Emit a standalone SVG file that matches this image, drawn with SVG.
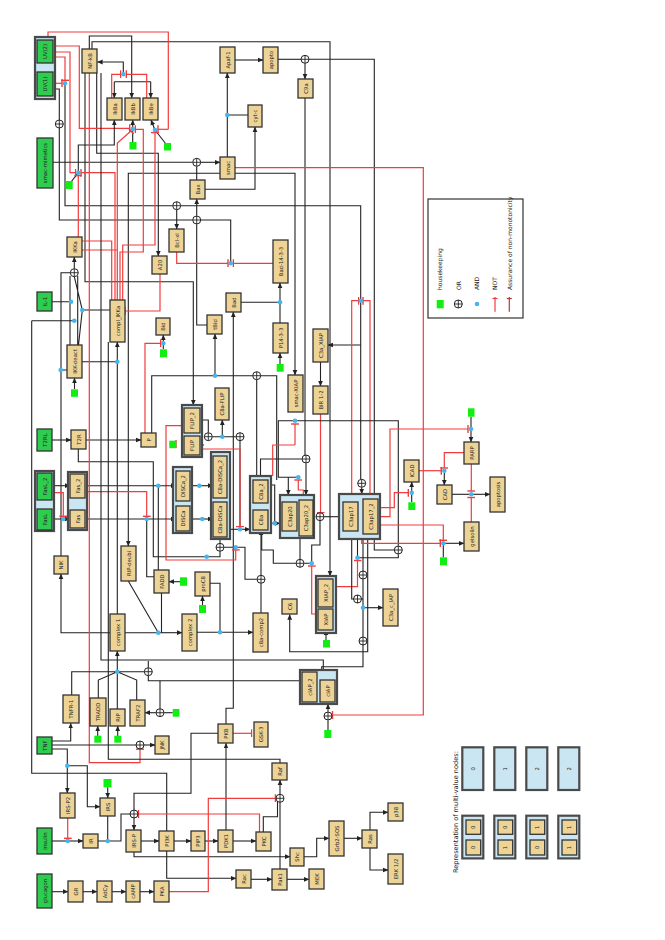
<svg xmlns="http://www.w3.org/2000/svg" width="665" height="940" viewBox="0 0 665 940">
<defs>
<style>
.n{fill:#EDD396;stroke:#333;stroke-width:1.3}
.g{fill:#2ECC4F;stroke:#333;stroke-width:1.3}
.c{fill:#C9E6F2;stroke:#4a4a4a;stroke-width:2.2}
.hk{fill:#11EE11}
.t{font-family:"DejaVu Sans",sans-serif;font-size:5.3px;text-anchor:middle;dominant-baseline:central;fill:#222}
.b{fill:none;stroke:#222;stroke-width:1.1}
.r{fill:none;stroke:#F03C3C;stroke-width:1.2}
.ba{fill:none;stroke:#222;stroke-width:1.1;marker-end:url(#a)}
.ri{fill:none;stroke:#F03C3C;stroke-width:1.2;marker-end:url(#i)}
.and{fill:#45B5EE}
.lt{font-family:"DejaVu Sans",sans-serif;font-size:6px;fill:#222}
</style>
<marker id="a" viewBox="0 0 6 6" refX="5.6" refY="3" markerWidth="5" markerHeight="5" orient="auto"><path d="M0,0.4 L6,3 L0,5.6z" fill="#222"/></marker>
<marker id="i" viewBox="0 0 4 8" refX="1" refY="4" markerWidth="4" markerHeight="8" orient="auto" markerUnits="userSpaceOnUse"><path d="M1,0 V8" stroke="#F03C3C" stroke-width="1.4"/></marker>
<g id="or"><circle r="4" fill="#fff" stroke="#222" stroke-width="1"/><path d="M-4,0H4M0,-4V4" stroke="#222" stroke-width="0.9"/></g>
</defs>
<rect width="665" height="940" fill="#fff"/>

<g id="connectors">
<!-- top / NF-kB -->
<path class="b" d="M89.3,49V36H131.7V81.7M114.3,81.7H150.7"/>
<path class="ba" d="M114.3,81.7V98"/><path class="ba" d="M131.7,81.7V98"/><path class="ba" d="M150.7,81.7V98"/>
<path class="ba" d="M123.3,74.3V62H97.5"/>
<path class="ri" d="M111.7,98V74.3H120.5"/><path class="ri" d="M146.7,98V74.3H126.3"/>
<path class="ba" d="M92,49V41.7H330V576"/>
<path class="ba" d="M96.7,73V153.3H158.3V256"/>
<path class="ba" d="M85,73V281.7H193.3V405"/>
<path class="r" d="M48,37V32H168.3V129.3"/><path class="ri" d="M168.3,129.3H158"/>
<path class="ri" d="M53,46H79.3V128.3H129.7"/>
<path class="ri" d="M53,52H70V172.7H75.5"/>
<path class="ri" d="M53,57H65V80.3"/>
<path class="ri" d="M53,83.3H62"/>
<path class="b" d="M65,83.3V205.7H172.5M180.9,205.7H360.7V479.1"/>
<path class="ba" d="M176.7,209.9V229"/>
<path class="ba" d="M360.7,345H328"/>
<path class="ba" d="M361.7,487.5V494"/>
<path class="b" d="M53,89H59.3V120"/>
<path class="b" d="M59.3,128V220H192.5"/>
<path class="ba" d="M196.7,215.8V199"/>
<path class="b" d="M200.9,220H230.7V263.3"/>
<path class="b" d="M207,325H196.7V224.2"/>
<path class="ri" d="M176.7,252V263.3H228"/>
<path class="ri" d="M273,263.3H233.4"/>
<path class="b" d="M53,162.3H192.5"/><path class="ba" d="M200.9,162.3H220"/>
<path class="b" d="M196.7,166.5V180"/>
<path class="ba" d="M205,189.3H255V127"/>
<path class="b" d="M248,115H227.3V157"/><path class="ba" d="M227.3,115V73"/>
<path class="ba" d="M235,60H263"/>
<path class="b" d="M278,59.3H301"/><path class="ba" d="M305,63.5V79"/>
<path class="ba" d="M309,59.3H374.3V499"/>
<path class="b" d="M305,98V455"/><path class="ba" d="M306,463.2V495"/>
<path class="b" d="M260.5,476V459H301.8"/>
<path class="ba" d="M235,173.3H295V375"/>
<path class="ba" d="M220,173.3H128.3V546"/>
<path class="ri" d="M235,167.7H423.3V715H332.5"/>
<!-- Bad / 14-3-3 -->
<path class="b" d="M241,302.3H280V323"/><path class="ba" d="M280,302.3V283"/>
<path class="ba" d="M280,364V353"/>
<path class="ba" d="M226,724V708.3H233.3V312"/>
<!-- IkB ANDs -->
<path class="b" d="M71,182L78.3,172.7"/><path class="ba" d="M78.3,172.7V145H114.3V120"/>
<path class="b" d="M132.7,142V129"/><path class="ba" d="M132.7,129V120"/>
<path class="b" d="M166,144L155,130"/><path class="ba" d="M155,130L151,120"/>
<path class="ri" d="M115,300V172.7H81"/>
<path class="ri" d="M117.3,300V143L131,131"/>
<path class="ri" d="M120,300V252H143.3V129.3H135.4"/>
<path class="ri" d="M122.7,300V245H155V132.6"/>
<path class="r" d="M82,241H111.7V300M82,250H117.3"/>
<path class="ri" d="M78.3,237V175.6"/>
<!-- IKK area -->
<path class="ba" d="M74.3,268.7V257"/>
<path class="b" d="M70,276V345M77.7,276V345M74.3,276.7L82.3,310L78.5,345M82.3,310H110"/>
<path class="b" d="M52,301.7H70M31.7,320.7H74.3"/>
<path class="b" d="M31.7,320.7V773.3H166.7V831"/>
<path class="b" d="M61,556V272.7H70.3M60.7,370H67"/>
<path class="ba" d="M74.5,389V378"/>
<path class="b" d="M82,361.7H117.3"/><path class="ba" d="M117.3,614V342"/>
<path class="ri" d="M160,274V311H125"/>
<path class="ba" d="M163.3,349V335"/>
<path class="ri" d="M145,433V343.3H160.6"/>
<path class="ba" d="M52,440H71"/><path class="ba" d="M86,440H141"/>
<path class="b" d="M78.3,449V461.7H153.3V556.7H206.7H220V551.5"/>
<path class="b" d="M151.7,433V375.7H276.7V480"/>
<path class="ba" d="M215,375.7V334"/>
<path class="b" d="M256.7,379.9V476"/>
<path class="b" d="M202,420H208.3V432.5M202,445H204.1M212.5,436.7H235.8"/>
<path class="ba" d="M222.3,436.7V420"/>
<path class="b" d="M240,440.9V529.3"/>
<path class="ba" d="M229,529.3H250"/>
<path class="ri" d="M200,449H240V526.5"/>
<path class="ri" d="M184,425.7H166V560H235.7V549.9"/>
<path class="b" d="M220,538.5V543.1M224.2,547.3H245V579.3H256.8"/>
<path class="ri" d="M169.5,444H176"/>
<!-- Fas / DISC -->
<path class="ba" d="M52,485.7H70"/>
<path class="ba" d="M52,519H70"/>
<path class="ri" d="M52,492.7H63.3V516.3"/>
<path class="ba" d="M86,485.7H176"/>
<path class="ba" d="M86,519H176"/>
<path class="ri" d="M86,491.7H146.7V516.3"/>
<path class="b" d="M158.3,485.7V570M146.7,519V576.7H154"/>
<path class="ba" d="M186,581.7H169"/>
<path class="b" d="M128.3,581L158.3,632.7M161.5,593V632.7"/>
<path class="ba" d="M158.3,632.7H182"/>
<path class="ba" d="M158.3,632.7H61V574"/>
<path class="ba" d="M190,485.7H213"/><path class="ba" d="M190,519H213"/>
<path class="ri" d="M89.3,73V762.7H140V749.2"/>
<path class="b" d="M101,73V660H323.3V670"/>
<path class="b" d="M108.3,342V759.3H280V763"/>
<!-- complex 1 -->
<path class="b" d="M71.7,695V671.7H117.3M98.3,698V680L117.3,671.7M136.7,700V680L117.3,671.7M117.3,709V671.7M144,671.7H117.3"/>
<path class="ba" d="M117.3,671.7V651"/>
<path class="b" d="M148.3,667.5V661M148.3,675.9V680.7H301.7"/>
<path class="ba" d="M97.7,736V726"/><path class="ba" d="M117.7,736V726"/>
<path class="b" d="M172.7,712.7H164.2"/><path class="ba" d="M155.8,712.7H145"/>
<path class="b" d="M160,708.5V680.7"/>
<path class="b" d="M197,632.3H220V583.3H210"/><path class="ba" d="M220,632.3H253"/>
<path class="ba" d="M261,575V530"/>
<path class="b" d="M261,613V583.5"/>
<path class="ba" d="M202.5,605V596"/>
<!-- caspases -->
<path class="ba" d="M320.5,362V386"/>
<path class="ri" d="M320.5,414V512.5"/>
<path class="ba" d="M324.2,516.7H343"/>
<path class="ri" d="M351.7,494V300.7H358.5"/>
<path class="ri" d="M370,499V300.7H363"/>
<path class="b" d="M298.3,477.3H278.3V420.7H398.3V545.8"/>
<path class="ba" d="M288.3,477.3V495"/>
<path class="ri" d="M303.3,500V490H298.3V480"/>
<path class="ri" d="M295,445V424"/>
<path class="r" d="M295,445H272.7V476"/>
<path class="b" d="M268,485H274.7V523.3M268,523.3H274.7"/><path class="ba" d="M274.7,523.3H280"/>
<path class="b" d="M261.7,530V550H273.3V563.3H295.8M300,538V559.1M304.2,563.3H311.7V545H320V520.9"/>
<path class="ri" d="M318,614H311.7V566"/>
<path class="ba" d="M394,550H374.3V535"/>
<path class="b" d="M357.5,539V557.7H398.3V554.2"/>
<path class="ri" d="M333,586.7H357.5V560.5"/>
<path class="b" d="M363,539V666.7H321.7V670"/>
<path class="b" d="M351.7,539V599H353.3M361.7,599H363"/>
<path class="ba" d="M363,607.7H383"/>
<path class="ba" d="M367.7,539V651.7H289.7V614.5"/>
<path class="ba" d="M326,640V630"/>
<!-- ICAD etc -->
<path class="ba" d="M411.7,502V482"/>
<path class="ri" d="M378,507.7H394.3V492.7H408.3"/>
<path class="ri" d="M419,470.7H441.3"/>
<path class="ri" d="M464,452.7H444.3V468"/>
<path class="ba" d="M444.3,473V485"/>
<path class="b" d="M471,416.7V429"/><path class="ba" d="M471,429V442"/>
<path class="ri" d="M378,516.7H390V429H468"/>
<path class="b" d="M452,494.3H471.3"/><path class="ba" d="M471.3,494.3H490"/>
<path class="ri" d="M471.3,464V491"/><path class="ri" d="M471.3,522V497.5"/>
<path class="ba" d="M443.3,543.3H464"/>
<path class="b" d="M443.3,557.3V543.3"/>
<path class="ri" d="M378,525H443.3V540.3"/>
<path class="ri" d="M361.7,539V543.3H440.3"/>
<!-- bottom -->
<path class="ba" d="M52,741H70.7V723.3"/>
<path class="b" d="M52,745H136"/><path class="ba" d="M144,745H155"/>
<path class="b" d="M52,749H67.3V765.7"/><path class="ba" d="M67.3,765.7V793"/>
<path class="ba" d="M67.3,765.7H87.3V806.7H100"/>
<path class="ri" d="M67.7,818V838.3"/>
<path class="ba" d="M52,841H83"/>
<path class="b" d="M98,841H121V814H130"/>
<path class="ba" d="M107.7,787.3V798"/><path class="b" d="M107.7,816V841"/>
<path class="ba" d="M134,818V830"/>
<path class="b" d="M134,810V793.3H191V733.3H218"/>
<path class="ri" d="M259.5,832V814H138.5"/>
<path class="ba" d="M141,841H159"/><path class="ba" d="M174,841H191"/>
<path class="ba" d="M205,841H218"/><path class="ba" d="M233,841H256"/>
<path class="ba" d="M226,830V743.3"/>
<path class="ri" d="M233,733.3H251.5"/>
<path class="ba" d="M134,852V856.7H290"/>
<path class="ba" d="M166.7,851V878.3H236"/>
<path class="ba" d="M251,879.3H272"/><path class="ba" d="M287,879.3H309"/>
<path class="b" d="M280,869V802.2M263.3,832V816.7H277.5V801.5"/>
<path class="ba" d="M280,794.2V780"/>
<path class="ri" d="M169,891.7H208.3V798.3H275.4"/>
<path class="ba" d="M52,891.7H68"/><path class="ba" d="M83,891.7H97"/><path class="ba" d="M112,891.7H126"/><path class="ba" d="M140,891.7H154"/>
<path class="ba" d="M304,856.7H316.7V838.3H329"/>
<path class="ba" d="M344,838.3H362"/>
<path class="ba" d="M370,830V812.3H388"/><path class="ba" d="M370,848V870H388"/>
<path class="b" d="M328,730V720.2"/><path class="ba" d="M328,711.8V704"/>
</g>

<g id="logic">
<circle class="and" cx="123.3" cy="74.3" r="2.3"/>
<circle class="and" cx="65" cy="83.3" r="2.3"/>
<circle class="and" cx="132.7" cy="129" r="2.3"/>
<circle class="and" cx="155" cy="130" r="2.3"/>
<circle class="and" cx="78.3" cy="172.7" r="2.3"/>
<circle class="and" cx="227.3" cy="115" r="2.3"/>
<circle class="and" cx="230.7" cy="263.3" r="2.3"/>
<circle class="and" cx="280" cy="302.3" r="2.3"/>
<circle class="and" cx="360.7" cy="300.7" r="2.3"/>
<circle class="and" cx="71" cy="301.7" r="2.3"/>
<circle class="and" cx="82.3" cy="310" r="2.3"/>
<circle class="and" cx="74.3" cy="320.7" r="2.3"/>
<circle class="and" cx="60.7" cy="370" r="2.3"/>
<circle class="and" cx="117.3" cy="361.7" r="2.3"/>
<circle class="and" cx="163.3" cy="343.3" r="2.3"/>
<circle class="and" cx="215" cy="375.7" r="2.3"/>
<circle class="and" cx="222.3" cy="436.7" r="2.3"/>
<circle class="and" cx="63.3" cy="519" r="2.3"/>
<circle class="and" cx="158.3" cy="485.7" r="2.3"/>
<circle class="and" cx="146.7" cy="519" r="2.3"/>
<circle class="and" cx="199.3" cy="485.7" r="2.3"/>
<circle class="and" cx="202.3" cy="519" r="2.3"/>
<circle class="and" cx="206.7" cy="556.7" r="2.3"/>
<circle class="and" cx="240" cy="529.3" r="2.3"/>
<circle class="and" cx="235.7" cy="547.3" r="2.3"/>
<circle class="and" cx="274.7" cy="523.3" r="2.3"/>
<circle class="and" cx="298.3" cy="477.3" r="2.3"/>
<circle class="and" cx="311.7" cy="563.3" r="2.3"/>
<circle class="and" cx="357.5" cy="557.7" r="2.3"/>
<circle class="and" cx="158.3" cy="632.7" r="2.3"/>
<circle class="and" cx="117.3" cy="671.7" r="2.3"/>
<circle class="and" cx="220" cy="632.3" r="2.3"/>
<circle class="and" cx="295" cy="420.7" r="2.3"/>
<circle class="and" cx="363" cy="607.7" r="2.3"/>
<circle class="and" cx="411.7" cy="492.7" r="2.3"/>
<circle class="and" cx="444.3" cy="470.7" r="2.3"/>
<circle class="and" cx="471" cy="429" r="2.3"/>
<circle class="and" cx="471.3" cy="494.3" r="2.3"/>
<circle class="and" cx="443.3" cy="543.3" r="2.3"/>
<circle class="and" cx="67.3" cy="765.7" r="2.3"/>
<circle class="and" cx="67.7" cy="841" r="2.3"/>
<circle class="and" cx="107.7" cy="841" r="2.3"/>
<use href="#or" x="59.3" y="124"/>
<use href="#or" x="176.7" y="205.7"/>
<use href="#or" x="196.7" y="220"/>
<use href="#or" x="196.7" y="162.3"/>
<use href="#or" x="305" y="59.3"/>
<use href="#or" x="306" y="459"/>
<use href="#or" x="74.3" y="272.7"/>
<use href="#or" x="256.7" y="375.7"/>
<use href="#or" x="208.3" y="436.7"/>
<use href="#or" x="240" y="436.7"/>
<use href="#or" x="220" y="547.3"/>
<use href="#or" x="261" y="579.3"/>
<use href="#or" x="300" y="563.3"/>
<use href="#or" x="320" y="516.7"/>
<use href="#or" x="361.7" y="483.3"/>
<use href="#or" x="398.3" y="550"/>
<use href="#or" x="363" y="575"/>
<use href="#or" x="357.5" y="599"/>
<use href="#or" x="363" y="641"/>
<use href="#or" x="148.3" y="671.7"/>
<use href="#or" x="160" y="712.7"/>
<use href="#or" x="140" y="745"/>
<use href="#or" x="134" y="814"/>
<use href="#or" x="280" y="798.3"/>
<use href="#or" x="328" y="716"/>
</g>

<g id="housekeeping">
<rect class="hk" x="129.5" y="142" width="7" height="7.5"/>
<rect class="hk" x="164" y="143" width="7" height="7.5"/>
<rect class="hk" x="65.7" y="181" width="7" height="8"/>
<rect class="hk" x="71" y="389.3" width="7" height="7.5"/>
<rect class="hk" x="160" y="349.3" width="7" height="8"/>
<rect class="hk" x="169.3" y="440.7" width="7" height="7.5"/>
<rect class="hk" x="276.7" y="364" width="7" height="7.7"/>
<rect class="hk" x="180" y="577.3" width="7" height="8.5"/>
<rect class="hk" x="199" y="605" width="7" height="8"/>
<rect class="hk" x="323" y="640" width="7" height="7.5"/>
<rect class="hk" x="408.3" y="502.3" width="7" height="7.7"/>
<rect class="hk" x="468" y="408.3" width="6.5" height="8.4"/>
<rect class="hk" x="440" y="557.3" width="7" height="8"/>
<rect class="hk" x="172.7" y="709" width="6.7" height="7.7"/>
<rect class="hk" x="94.3" y="735.7" width="7" height="7"/>
<rect class="hk" x="114.3" y="735.7" width="7" height="7"/>
<rect class="hk" x="103.5" y="779" width="8" height="8.3"/>
<rect class="hk" x="324.3" y="730" width="7" height="8"/>
</g>

<g id="containers">
<rect class="c" x="35" y="37" width="20" height="62"/>
<rect class="c" x="35" y="471" width="19" height="60"/>
<rect class="c" x="68" y="472" width="19" height="58"/>
<rect class="c" x="173" y="467" width="19" height="66"/>
<rect class="c" x="182" y="405" width="20" height="52"/>
<rect class="c" x="211" y="452" width="19" height="87"/>
<rect class="c" x="250" y="476" width="21" height="57"/>
<rect class="c" x="280" y="495" width="34" height="43"/>
<rect class="c" x="339" y="494" width="41" height="45"/>
<rect class="c" x="316" y="576" width="20" height="57"/>
<rect class="c" x="300" y="670" width="37" height="34"/>
</g>

<g id="nodes">
<g id="UV2"><rect class="g" x="37" y="40" width="16" height="23"/><text class="t" transform="translate(45,51.5) rotate(-90)">UV(2)</text></g>
<g id="UV1"><rect class="g" x="37" y="72" width="16" height="24"/><text class="t" transform="translate(45,84) rotate(-90)">UV(1)</text></g>
<g id="NFkB"><rect class="n" x="82" y="49" width="15" height="24"/><text class="t" transform="translate(89.5,61) rotate(-90)">NF-kB</text></g>
<g id="IkBa"><rect class="n" x="107" y="98" width="15" height="22"/><text class="t" transform="translate(114.5,109) rotate(-90)">IkBa</text></g>
<g id="IkBb"><rect class="n" x="125" y="98" width="15" height="22"/><text class="t" transform="translate(132.5,109) rotate(-90)">IkBb</text></g>
<g id="IkBe"><rect class="n" x="143" y="98" width="15" height="22"/><text class="t" transform="translate(150.5,109) rotate(-90)">IkBe</text></g>
<g id="smacmim"><rect class="g" x="37" y="138" width="16" height="50"/><text class="t" transform="translate(45,163) rotate(-90)">smac-mimetics</text></g>
<g id="Bax"><rect class="n" x="190" y="180" width="15" height="19"/><text class="t" transform="translate(197.5,189.5) rotate(-90)">Bax</text></g>
<g id="IKKa"><rect class="n" x="67" y="237" width="15" height="20"/><text class="t" transform="translate(74.5,247) rotate(-90)">IKKa</text></g>
<g id="Bclxl"><rect class="n" x="169" y="229" width="15" height="23"/><text class="t" transform="translate(176.5,240.5) rotate(-90)">Bcl-xl</text></g>
<g id="Apaf1"><rect class="n" x="220" y="47" width="15" height="26"/><text class="t" transform="translate(227.5,60) rotate(-90)">Apaf-1</text></g>
<g id="apopto"><rect class="n" x="263" y="47" width="15" height="26"/><text class="t" transform="translate(270.5,60) rotate(-90)">apopto</text></g>
<g id="C9a"><rect class="n" x="298" y="79" width="15" height="19"/><text class="t" transform="translate(305.5,88.5) rotate(-90)">C9a</text></g>
<g id="cytc"><rect class="n" x="248" y="105" width="14" height="22"/><text class="t" transform="translate(255,116) rotate(-90)">cyt-c</text></g>
<g id="smac"><rect class="n" x="220" y="157" width="15" height="22"/><text class="t" transform="translate(227.5,168) rotate(-90)">smac</text></g>
<g id="Bad1433"><rect class="n" x="273" y="240" width="15" height="43"/><text class="t" transform="translate(280.5,261.5) rotate(-90)">Bad-14-3-3</text></g>
<g id="IL1"><rect class="g" x="37" y="292" width="15" height="19"/><text class="t" transform="translate(44.5,301.5) rotate(-90)">IL-1</text></g>
<g id="complIKKa"><rect class="n" x="110" y="300" width="15" height="42"/><text class="t" transform="translate(117.5,321) rotate(-90)">compl_IKKa</text></g>
<g id="A20"><rect class="n" x="152" y="256" width="15" height="18"/><text class="t" transform="translate(159.5,265) rotate(-90)">A20</text></g>
<g id="Bid"><rect class="n" x="156" y="318" width="14" height="17"/><text class="t" transform="translate(163,326.5) rotate(-90)">Bid</text></g>
<g id="IKKdeact"><rect class="n" x="67" y="345" width="15" height="33"/><text class="t" transform="translate(74.5,361.5) rotate(-90)">IKK-deact</text></g>
<g id="T2RL"><rect class="g" x="37" y="429" width="15" height="22"/><text class="t" transform="translate(44.5,440) rotate(-90)">T2RL</text></g>
<g id="T2R"><rect class="n" x="71" y="430" width="15" height="19"/><text class="t" transform="translate(78.5,439.5) rotate(-90)">T2R</text></g>
<g id="P"><rect class="n" x="141" y="433" width="15" height="14"/><text class="t" transform="translate(148.5,440) rotate(-90)">P</text></g>
<g id="FLIP2"><rect class="n" x="184" y="408" width="16" height="25"/><text class="t" transform="translate(192,420.5) rotate(-90)">FLIP_2</text></g>
<g id="FLIP"><rect class="n" x="184" y="436" width="16" height="19"/><text class="t" transform="translate(192,445.5) rotate(-90)">FLIP</text></g>
<g id="Bad"><rect class="n" x="226" y="293" width="15" height="19"/><text class="t" transform="translate(233.5,302.5) rotate(-90)">Bad</text></g>
<g id="tBid"><rect class="n" x="207" y="315" width="15" height="19"/><text class="t" transform="translate(214.5,324.5) rotate(-90)">tBid</text></g>
<g id="P1433"><rect class="n" x="273" y="323" width="15" height="30"/><text class="t" transform="translate(280.5,338) rotate(-90)">P14-3-3</text></g>
<g id="C3aXIAP"><rect class="n" x="313" y="329" width="15" height="33"/><text class="t" transform="translate(320.5,345.5) rotate(-90)">C3a_XIAP</text></g>
<g id="smacXIAP"><rect class="n" x="288" y="375" width="15" height="37"/><text class="t" transform="translate(295.5,393.5) rotate(-90)">smac-XIAP</text></g>
<g id="BIR12"><rect class="n" x="313" y="386" width="15" height="28"/><text class="t" transform="translate(320.5,400) rotate(-90)">BIR 1-2</text></g>
<g id="C8aFLIP"><rect class="n" x="215" y="388" width="14" height="32"/><text class="t" transform="translate(222,404) rotate(-90)">C8a-FLIP</text></g>
<g id="FasL2"><rect class="g" x="37" y="473" width="15" height="27"/><text class="t" transform="translate(44.5,486.5) rotate(-90)">FasL_2</text></g>
<g id="FasL"><rect class="g" x="37" y="509" width="15" height="21"/><text class="t" transform="translate(44.5,519.5) rotate(-90)">FasL</text></g>
<g id="Fas2"><rect class="n" x="70" y="474" width="15" height="24"/><text class="t" transform="translate(77.5,486) rotate(-90)">Fas_2</text></g>
<g id="Fas"><rect class="n" x="70" y="510" width="15" height="18"/><text class="t" transform="translate(77.5,519) rotate(-90)">Fas</text></g>
<g id="DISCa2"><rect class="n" x="176" y="471" width="14" height="30"/><text class="t" transform="translate(183,486) rotate(-90)">DISCa_2</text></g>
<g id="DISCa"><rect class="n" x="176" y="506" width="14" height="25"/><text class="t" transform="translate(183,518.5) rotate(-90)">DISCa</text></g>
<g id="C8aDISCa2"><rect class="n" x="213" y="456" width="14" height="42"/><text class="t" transform="translate(220,477) rotate(-90)">C8a-DISCa_2</text></g>
<g id="C8aDISCa"><rect class="n" x="213" y="502" width="14" height="35"/><text class="t" transform="translate(220,519.5) rotate(-90)">C8a-DISCa</text></g>
<g id="NIK"><rect class="n" x="54" y="556" width="14" height="18"/><text class="t" transform="translate(61,565) rotate(-90)">NIK</text></g>
<g id="RIPdeubi"><rect class="n" x="121" y="546" width="15" height="35"/><text class="t" transform="translate(128.5,563.5) rotate(-90)">RIP-deubi</text></g>
<g id="FADD"><rect class="n" x="154" y="570" width="15" height="23"/><text class="t" transform="translate(161.5,581.5) rotate(-90)">FADD</text></g>
<g id="complex1"><rect class="n" x="110" y="614" width="15" height="37"/><text class="t" transform="translate(117.5,632.5) rotate(-90)">complex 1</text></g>
<g id="complex2"><rect class="n" x="182" y="614" width="15" height="37"/><text class="t" transform="translate(189.5,632.5) rotate(-90)">complex 2</text></g>
<g id="C8a2"><rect class="n" x="253" y="480" width="15" height="23"/><text class="t" transform="translate(260.5,491.5) rotate(-90)">C8a_2</text></g>
<g id="C8a"><rect class="n" x="253" y="510" width="15" height="20"/><text class="t" transform="translate(260.5,520) rotate(-90)">C8a</text></g>
<g id="C3ap20"><rect class="n" x="282" y="502" width="15" height="29"/><text class="t" transform="translate(289.5,516.5) rotate(-90)">C3ap20</text></g>
<g id="C3ap202"><rect class="n" x="299" y="500" width="14" height="36"/><text class="t" transform="translate(306,518) rotate(-90)">C3ap20_2</text></g>
<g id="C3ap17"><rect class="n" x="343" y="502" width="15" height="29"/><text class="t" transform="translate(350.5,516.5) rotate(-90)">C3ap17</text></g>
<g id="C3ap172"><rect class="n" x="363" y="499" width="15" height="35"/><text class="t" transform="translate(370.5,516.5) rotate(-90)">C3ap17_2</text></g>
<g id="proC8"><rect class="n" x="195" y="572" width="15" height="24"/><text class="t" transform="translate(202.5,584) rotate(-90)">proC8</text></g>
<g id="C6"><rect class="n" x="282" y="599" width="15" height="15"/><text class="t" transform="translate(289.5,606.5) rotate(-90)">C6</text></g>
<g id="c8acomp2"><rect class="n" x="253" y="613" width="15" height="39"/><text class="t" transform="translate(260.5,632.5) rotate(-90)">c8a-comp2</text></g>
<g id="XIAP2"><rect class="n" x="318" y="579" width="15" height="28"/><text class="t" transform="translate(325.5,593) rotate(-90)">XIAP_2</text></g>
<g id="XIAP"><rect class="n" x="318" y="609" width="15" height="21"/><text class="t" transform="translate(325.5,619.5) rotate(-90)">XIAP</text></g>
<g id="C3acIAP"><rect class="n" x="383" y="589" width="15" height="37"/><text class="t" transform="translate(390.5,607.5) rotate(-90)">C3a_c_IAP</text></g>
<g id="cIAP2"><rect class="n" x="302" y="672" width="15" height="30"/><text class="t" transform="translate(309.5,687) rotate(-90)">cIAP_2</text></g>
<g id="cIAP"><rect class="n" x="320" y="680" width="15" height="22"/><text class="t" transform="translate(327.5,691) rotate(-90)">cIAP</text></g>
<g id="ICAD"><rect class="n" x="404" y="460" width="15" height="22"/><text class="t" transform="translate(411.5,471) rotate(-90)">ICAD</text></g>
<g id="CAD"><rect class="n" x="437" y="485" width="15" height="19"/><text class="t" transform="translate(444.5,494.5) rotate(-90)">CAD</text></g>
<g id="PARP"><rect class="n" x="464" y="442" width="15" height="22"/><text class="t" transform="translate(471.5,453) rotate(-90)">PARP</text></g>
<g id="apoptosis"><rect class="n" x="490" y="477" width="15" height="35"/><text class="t" transform="translate(497.5,494.5) rotate(-90)">apoptosis</text></g>
<g id="gelsolin"><rect class="n" x="464" y="522" width="15" height="29"/><text class="t" transform="translate(471.5,536.5) rotate(-90)">gelsolin</text></g>
<g id="TNFR1"><rect class="n" x="63" y="695" width="16" height="28"/><text class="t" transform="translate(71,709) rotate(-90)">TNFR-1</text></g>
<g id="TRADD"><rect class="n" x="90" y="698" width="16" height="28"/><text class="t" transform="translate(98,712) rotate(-90)">TRADD</text></g>
<g id="RIP"><rect class="n" x="110" y="709" width="15" height="17"/><text class="t" transform="translate(117.5,717.5) rotate(-90)">RIP</text></g>
<g id="TRAF2"><rect class="n" x="130" y="700" width="15" height="26"/><text class="t" transform="translate(137.5,713) rotate(-90)">TRAF2</text></g>
<g id="TNF"><rect class="g" x="37" y="737" width="15" height="17"/><text class="t" transform="translate(44.5,745.5) rotate(-90)">TNF</text></g>
<g id="JNK"><rect class="n" x="155" y="736" width="14" height="18"/><text class="t" transform="translate(162,745) rotate(-90)">JNK</text></g>
<g id="IRSP2"><rect class="n" x="60" y="793" width="15" height="25"/><text class="t" transform="translate(67.5,805.5) rotate(-90)">IRS-P2</text></g>
<g id="IRS"><rect class="n" x="100" y="798" width="15" height="18"/><text class="t" transform="translate(107.5,807) rotate(-90)">IRS</text></g>
<g id="insulin"><rect class="g" x="37" y="828" width="15" height="26"/><text class="t" transform="translate(44.5,841) rotate(-90)">insulin</text></g>
<g id="IR"><rect class="n" x="83" y="834" width="15" height="14"/><text class="t" transform="translate(90.5,841) rotate(-90)">IR</text></g>
<g id="IRSP"><rect class="n" x="126" y="830" width="15" height="22"/><text class="t" transform="translate(133.5,841) rotate(-90)">IRS-P</text></g>
<g id="PI3K"><rect class="n" x="159" y="831" width="15" height="20"/><text class="t" transform="translate(166.5,841) rotate(-90)">PI3K</text></g>
<g id="PIP3"><rect class="n" x="191" y="831" width="14" height="20"/><text class="t" transform="translate(198,841) rotate(-90)">PIP3</text></g>
<g id="glucagon"><rect class="g" x="37" y="874" width="15" height="34"/><text class="t" transform="translate(44.5,891) rotate(-90)">glucagon</text></g>
<g id="GR"><rect class="n" x="68" y="881" width="15" height="21"/><text class="t" transform="translate(75.5,891.5) rotate(-90)">GR</text></g>
<g id="AdCy"><rect class="n" x="97" y="881" width="15" height="21"/><text class="t" transform="translate(104.5,891.5) rotate(-90)">AdCy</text></g>
<g id="cAMP"><rect class="n" x="126" y="881" width="14" height="21"/><text class="t" transform="translate(133,891.5) rotate(-90)">cAMP</text></g>
<g id="PKA"><rect class="n" x="154" y="881" width="15" height="21"/><text class="t" transform="translate(161.5,891.5) rotate(-90)">PKA</text></g>
<g id="PKB"><rect class="n" x="218" y="724" width="15" height="19"/><text class="t" transform="translate(225.5,733.5) rotate(-90)">PKB</text></g>
<g id="GSK3"><rect class="n" x="254" y="722" width="14" height="25"/><text class="t" transform="translate(261,734.5) rotate(-90)">GSK-3</text></g>
<g id="Raf"><rect class="n" x="272" y="763" width="15" height="17"/><text class="t" transform="translate(279.5,771.5) rotate(-90)">Raf</text></g>
<g id="PDK1"><rect class="n" x="218" y="830" width="15" height="22"/><text class="t" transform="translate(225.5,841) rotate(-90)">PDK1</text></g>
<g id="PKC"><rect class="n" x="256" y="832" width="15" height="19"/><text class="t" transform="translate(263.5,841.5) rotate(-90)">PKC</text></g>
<g id="Shc"><rect class="n" x="290" y="848" width="14" height="18"/><text class="t" transform="translate(297,857) rotate(-90)">Shc</text></g>
<g id="Grb2SOS"><rect class="n" x="329" y="821" width="15" height="35"/><text class="t" transform="translate(336.5,838.5) rotate(-90)">Grb2-SOS</text></g>
<g id="Rac"><rect class="n" x="236" y="870" width="15" height="18"/><text class="t" transform="translate(243.5,879) rotate(-90)">Rac</text></g>
<g id="Pak1"><rect class="n" x="272" y="869" width="15" height="21"/><text class="t" transform="translate(279.5,879.5) rotate(-90)">Pak1</text></g>
<g id="MEK"><rect class="n" x="309" y="869" width="15" height="20"/><text class="t" transform="translate(316.5,879) rotate(-90)">MEK</text></g>
<g id="Ras"><rect class="n" x="362" y="830" width="15" height="18"/><text class="t" transform="translate(369.5,839) rotate(-90)">Ras</text></g>
<g id="p38"><rect class="n" x="388" y="803" width="15" height="18"/><text class="t" transform="translate(395.5,812) rotate(-90)">p38</text></g>
<g id="ERK"><rect class="n" x="388" y="854" width="15" height="30"/><text class="t" transform="translate(395.5,869) rotate(-90)">ERK 1/2</text></g>
</g>

<g id="legend">
<rect x="428" y="199" width="95" height="119" fill="#fff" stroke="#333" stroke-width="1.2"/>
<rect class="hk" x="436.7" y="300" width="7" height="8.3"/>
<text class="lt" transform="translate(442.2,290) rotate(-90)">housekeeping</text>
<use href="#or" x="458.3" y="304"/>
<text class="lt" transform="translate(460.5,290) rotate(-90)">OR</text>
<circle class="and" cx="477" cy="304" r="2.3"/>
<text class="lt" transform="translate(479.2,290) rotate(-90)">AND</text>
<path d="M495,311.7V297" stroke="#F03C3C" stroke-width="1.2"/><path d="M492.5,298.5H497.5" stroke="#F03C3C" stroke-width="1.2"/>
<text class="lt" transform="translate(497.2,290) rotate(-90)">NOT</text>
<path d="M509.3,311.7V297" stroke="#B03A3A" stroke-width="1.2"/><path d="M506.8,298.5H511.8" stroke="#B03A3A" stroke-width="1.2"/>
<text class="lt" transform="translate(511.5,290) rotate(-90)">Assurance of non-monotonicity</text>
</g>

<g id="multivalue">
<text class="lt" transform="translate(457.5,873) rotate(-90)" style="font-size:6.6px">Representation of multi-value nodes:</text>
<rect class="c" x="462.3" y="747.3" width="21" height="42.7"/><text class="t" transform="translate(472.8,768.7) rotate(-90)">0</text>
<rect class="c" x="494.3" y="747.3" width="21" height="42.7"/><text class="t" transform="translate(504.8,768.7) rotate(-90)">1</text>
<rect class="c" x="526.3" y="747.3" width="21" height="42.7"/><text class="t" transform="translate(536.8,768.7) rotate(-90)">2</text>
<rect class="c" x="558.3" y="747.3" width="21" height="42.7"/><text class="t" transform="translate(568.8,768.7) rotate(-90)">2</text>
<rect class="c" x="462.3" y="815.7" width="21" height="42.7"/>
<rect class="n" x="466" y="820" width="14.7" height="14.3"/><text class="t" transform="translate(473.3,827.2) rotate(-90)">0</text>
<rect class="n" x="466" y="840" width="14.7" height="15"/><text class="t" transform="translate(473.3,847.5) rotate(-90)">0</text>
<rect class="c" x="494.3" y="815.7" width="21" height="42.7"/>
<rect class="n" x="498" y="820" width="14.7" height="14.3"/><text class="t" transform="translate(505.3,827.2) rotate(-90)">0</text>
<rect class="n" x="498" y="840" width="14.7" height="15"/><text class="t" transform="translate(505.3,847.5) rotate(-90)">1</text>
<rect class="c" x="526.3" y="815.7" width="21" height="42.7"/>
<rect class="n" x="530" y="820" width="14.7" height="14.3"/><text class="t" transform="translate(537.3,827.2) rotate(-90)">1</text>
<rect class="n" x="530" y="840" width="14.7" height="15"/><text class="t" transform="translate(537.3,847.5) rotate(-90)">0</text>
<rect class="c" x="558.3" y="815.7" width="21" height="42.7"/>
<rect class="n" x="562" y="820" width="14.7" height="14.3"/><text class="t" transform="translate(569.3,827.2) rotate(-90)">1</text>
<rect class="n" x="562" y="840" width="14.7" height="15"/><text class="t" transform="translate(569.3,847.5) rotate(-90)">1</text>
</g>
</svg>
